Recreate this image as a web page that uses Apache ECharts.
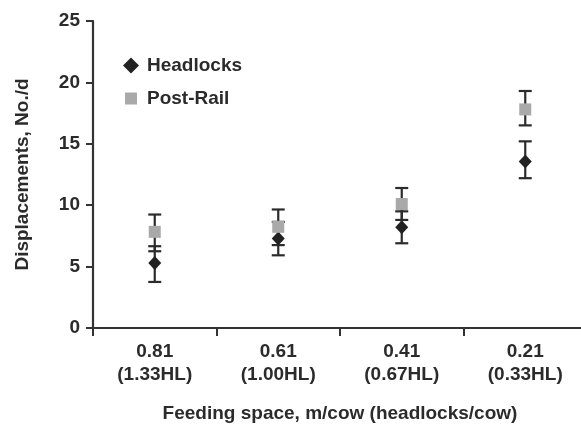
<!DOCTYPE html>
<html>
<head>
<meta charset="utf-8">
<script src="https://cdn.jsdelivr.net/npm/echarts@6/dist/echarts.min.js"></script>
<style>
html,body{margin:0;padding:0;background:#fff;}
#chart{width:581px;height:424px;}
</style>
</head>
<body>
<div id="chart"></div>
<script>
var categories = ['0.81\n(1.33HL)', '0.61\n(1.00HL)', '0.41\n(0.67HL)', '0.21\n(0.33HL)'];
var yTicks = [0, 5, 10, 15, 20, 25];
var headlocksMean = [5.3, 7.28, 8.2, 13.55];
var headlocksLow = [3.75, 5.92, 6.9, 12.2];
var headlocksHigh = [6.66, 8.64, 9.5, 15.2];
var postRailMean = [7.83, 8.24, 10.1, 17.8];
var postRailLow = [6.25, 6.75, 8.8, 16.5];
var postRailHigh = [9.24, 9.65, 11.4, 19.3];

var FONT = '"Liberation Sans", Arial, sans-serif';
var TXT = '#2b2b2b';

function errData(low, high) {
  return categories.map(function (c, i) { return [i, low[i], high[i]]; });
}
function renderErr(params, api) {
  var x = api.value(0);
  var lo = api.coord([x, api.value(1)]);
  var hi = api.coord([x, api.value(2)]);
  var hw = 6.5;
  var st = { stroke: '#2b2b2b', lineWidth: 2.2 };
  return {
    type: 'group',
    children: [
      { type: 'line', shape: { x1: lo[0], y1: lo[1], x2: hi[0], y2: hi[1] }, style: st },
      { type: 'line', shape: { x1: lo[0] - hw, y1: lo[1], x2: lo[0] + hw, y2: lo[1] }, style: st },
      { type: 'line', shape: { x1: hi[0] - hw, y1: hi[1], x2: hi[0] + hw, y2: hi[1] }, style: st }
    ]
  };
}

var chart = echarts.init(document.getElementById('chart'));
chart.setOption({
  animation: false,
  backgroundColor: '#fff',
  textStyle: { fontFamily: FONT },
  grid: { left: 93, top: 21, width: 494, height: 307, containLabel: false, outerBoundsMode: 'none' },
  legend: [
    {
      data: [{ name: 'Headlocks', icon: 'diamond' }],
      left: 118, top: 51, itemWidth: 16, itemHeight: 16,
      textStyle: { fontFamily: FONT, fontWeight: 'bold', fontSize: 19, color: TXT, padding: [0, 0, 0, 3] }
    },
    {
      data: [{ name: 'Post-Rail', icon: 'rect' }],
      left: 120, top: 84, itemWidth: 12, itemHeight: 12,
      textStyle: { fontFamily: FONT, fontWeight: 'bold', fontSize: 19, color: TXT, padding: [0, 0, 0, 5] }
    }
  ],
  xAxis: {
    type: 'category',
    data: categories,
    boundaryGap: true,
    name: 'Feeding space, m/cow (headlocks/cow)',
    nameLocation: 'middle',
    nameGap: 76,
    nameTextStyle: { fontFamily: FONT, fontWeight: 'bold', fontSize: 19, color: TXT },
    axisLine: { lineStyle: { color: '#333', width: 2.2 } },
    axisTick: { show: true, length: 8, lineStyle: { color: '#333', width: 2 } },
    axisLabel: { fontFamily: FONT, fontWeight: 'bold', fontSize: 19, color: TXT, margin: 12, lineHeight: 23 },
    splitLine: { show: false }
  },
  yAxis: {
    type: 'value',
    min: yTicks[0], max: yTicks[yTicks.length - 1], interval: 5,
    name: 'Displacements, No./d',
    nameLocation: 'middle',
    nameGap: 61,
    nameTextStyle: { fontFamily: FONT, fontWeight: 'bold', fontSize: 19, color: TXT },
    axisLine: { show: true, lineStyle: { color: '#333', width: 2.2 } },
    axisTick: { show: true, length: 7, lineStyle: { color: '#333', width: 2 } },
    axisLabel: { fontFamily: FONT, fontWeight: 'bold', fontSize: 19, color: TXT, margin: 13 },
    splitLine: { show: false }
  },
  series: [
    {
      name: 'HeadlocksErr', type: 'custom', renderItem: renderErr,
      data: errData(headlocksLow, headlocksHigh), z: 2, silent: true
    },
    {
      name: 'PostRailErr', type: 'custom', renderItem: renderErr,
      data: errData(postRailLow, postRailHigh), z: 2, silent: true
    },
    {
      name: 'Headlocks', type: 'scatter', symbol: 'diamond', symbolSize: [13, 14],
      data: headlocksMean, itemStyle: { color: '#222222', opacity: 1 }, z: 3
    },
    {
      name: 'Post-Rail', type: 'scatter', symbol: 'rect', symbolSize: 12,
      data: postRailMean, itemStyle: { color: '#a9a9a9', opacity: 1 }, z: 4
    }
  ]
});
</script>
</body>
</html>
